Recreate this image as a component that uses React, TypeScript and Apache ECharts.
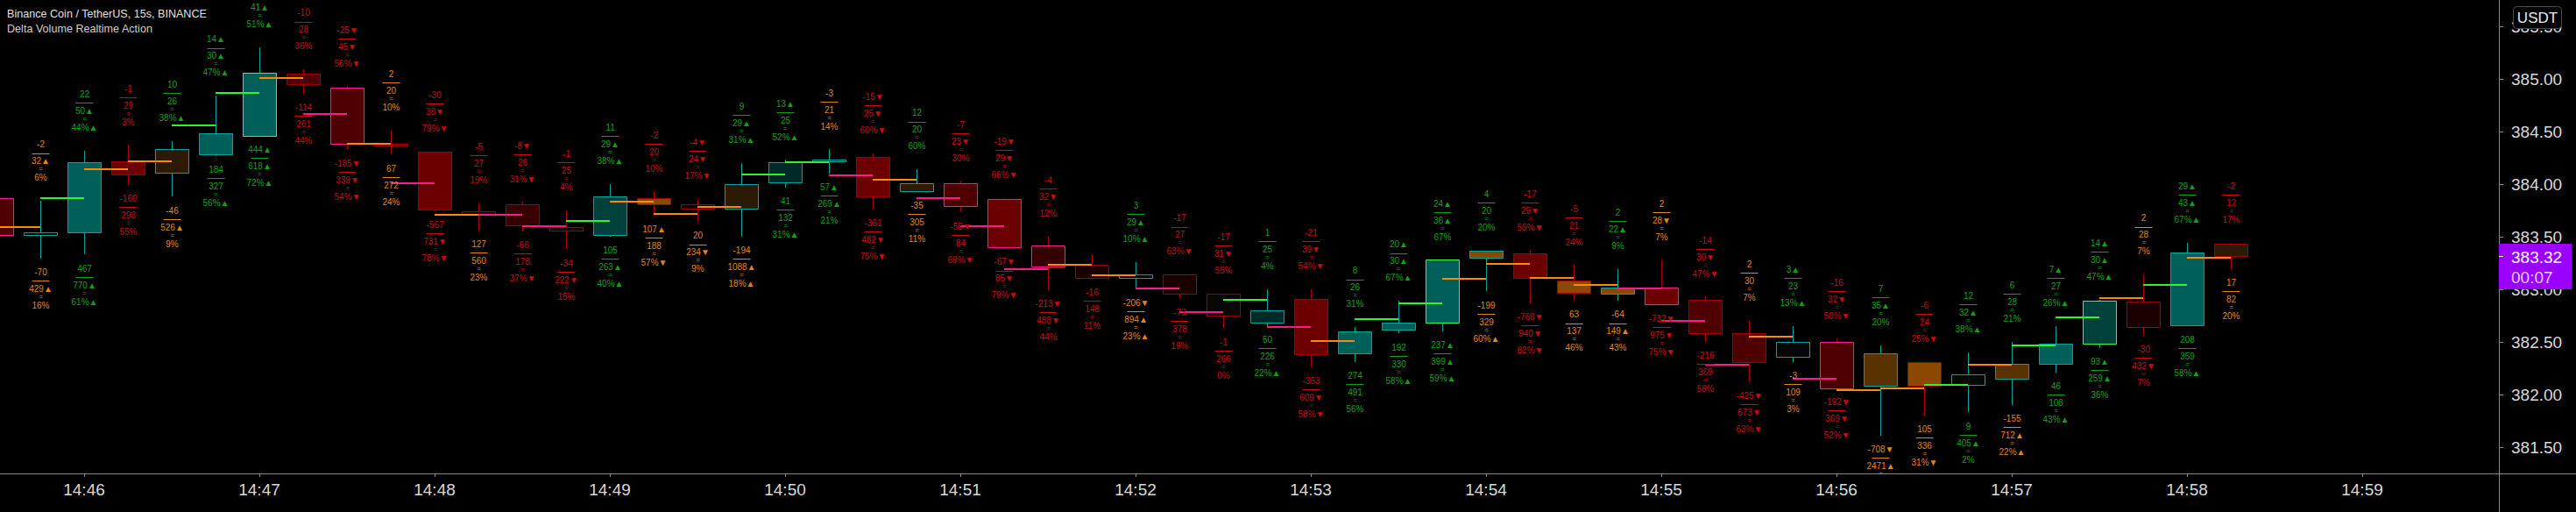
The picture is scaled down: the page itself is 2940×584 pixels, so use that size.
import React, { useEffect, useRef } from 'react';
import * as echarts from 'echarts';

// ---------------- data ----------------
const TITLE = 'Binance Coin / TetherUS, 15s, BINANCE';
const SUBTITLE = 'Delta Volume Realtime Action';
const CURRENCY = 'USDT';
const BAR_SECONDS = 15;
const LAST_PRICE = 383.32;
const COUNTDOWN = '00:07';

const TIMES = [
  '14:45:30','14:45:45','14:46:00','14:46:15','14:46:30','14:46:45','14:47:00','14:47:15','14:47:30','14:47:45',
  '14:48:00','14:48:15','14:48:30','14:48:45','14:49:00','14:49:15','14:49:30','14:49:45','14:50:00','14:50:15',
  '14:50:30','14:50:45','14:51:00','14:51:15','14:51:30','14:51:45','14:52:00','14:52:15','14:52:30','14:52:45',
  '14:53:00','14:53:15','14:53:30','14:53:45','14:54:00','14:54:15','14:54:30','14:54:45','14:55:00','14:55:15',
  '14:55:30','14:55:45','14:56:00','14:56:15','14:56:30','14:56:45','14:57:00','14:57:15','14:57:30','14:57:45',
  '14:58:00','14:58:15',
];

const OPEN = [
  383.87,383.52,383.54,384.22,384.11,384.28,384.46,385.05,384.92,384.38,
  384.31,383.74,383.81,383.59,383.52,383.87,383.81,383.77,384.02,384.22,
  384.26,383.93,384.01,383.86,383.42,383.23,383.11,383.14,382.96,382.68,
  382.91,382.39,382.62,382.68,383.30,383.34,383.08,382.96,383.02,382.90,
  382.58,382.36,382.50,382.08,382.31,382.09,382.15,382.29,382.48,382.88,
  382.66,383.43,
];
const HIGH = [
  383.90,383.84,384.32,384.37,384.41,384.84,385.30,385.09,384.93,384.51,
  384.31,383.82,383.83,383.75,384.00,383.93,383.86,384.20,384.23,384.33,
  384.29,384.14,384.03,383.87,383.50,383.33,383.26,383.14,382.96,383.00,
  383.00,382.64,382.89,383.28,383.37,383.37,383.23,383.19,383.28,382.93,
  382.70,382.65,382.53,382.47,382.31,382.40,382.50,382.65,382.90,383.14,
  383.44,383.44,
];
const LOW = [
  383.45,383.29,383.33,383.99,383.88,384.27,384.46,384.86,384.33,384.28,
  383.74,383.56,383.55,383.38,383.50,383.70,383.64,383.50,383.97,384.10,
  383.76,383.93,383.73,383.39,382.99,383.10,383.00,382.91,382.63,382.65,
  382.26,382.31,382.58,382.60,382.98,382.87,382.89,382.89,382.85,382.50,
  382.12,382.31,382.06,381.61,381.80,381.83,381.90,382.21,382.44,382.56,
  382.65,383.19,
];
const CLOSE = [
  383.52,383.54,384.21,384.09,384.33,384.48,385.06,384.95,384.38,384.37,
  383.76,383.71,383.61,383.56,383.88,383.81,383.77,384.00,384.21,384.23,
  383.88,384.01,383.79,383.40,383.22,383.11,383.14,382.96,382.75,382.80,
  382.38,382.60,382.68,383.28,383.37,383.11,382.97,383.02,382.86,382.58,
  382.31,382.50,382.06,382.39,382.08,382.19,382.29,382.48,382.89,382.64,
  383.35,383.32,
];
// body tone / edge tone per bar (state codes)
const BODY_TONE = [
  'r2','k','t1','r1','b3','t1','t1','r2','r2','k',
  'r1','r4','r3','r4','t2','b1','r4','b3','t3','k',
  'r1','b3','r2','r1','r3','r4','k','r4','k','t3',
  'r1','t1','t1','t1','b1','r1','b1','b1','r1','r2',
  'r2','k','r2','b2','b1','k','b2','t1','t2','r4',
  't1','b3',
];
const EDGE_TONE = [
  'p','t','t','r','t','t','l','r','p','r',
  'r','r','r','r','t','r','r','t','t','t',
  'r','t','p','p','p','r','t','r','r','t',
  'r','t','t','l','t','r','r','t','p','r',
  'r','t','p','t','r','t','t','t','l','r',
  't','r',
];
// level line per bar (drawn from previous bar to this bar)
const MID_LINE = [
  null,383.59,383.87,384.14,384.22,384.56,384.87,385.01,384.67,384.38,
  384.01,383.71,383.71,383.60,383.65,383.83,383.72,383.78,384.09,384.21,
  384.08,384.04,383.87,383.60,383.19,383.23,383.13,383.01,382.78,382.90,
  382.64,382.51,382.72,382.87,383.10,383.24,383.11,383.04,383.01,382.70,
  382.28,382.55,382.15,382.04,382.06,382.09,382.28,382.47,382.73,382.92,
  383.04,383.30,
];
const MID_TONE = [
  'p','o','g','o','o','g','g','o','p','o',
  'p','o','p','p','g','o','o','o','g','g',
  'p','o','p','p','p','o','o','p','p','g',
  'p','o','g','g','o','o','o','o','p','p',
  'p','o','p','o','o','g','o','g','g','o',
  'g','o',
];

const TOP_DELTA = ['','-2','22','-1','10','14▲','21','-10','-25▼','2','-30','-5','-8▼','-1','11','-2','-4▼','9','13▲','-3','-15▼','12','-7','-19▼','-4','','3','-17','-17','1','-21','8','20▲','24▲','4','-17','-5','2','2','-14','2','3▲','-16','7','-6','12','6','7▲','14▲','2','29▲','-2'];
const TOP_VOL = ['','32▲','50▲','29','26','30▲','41▲','28','45▼','20','38▼','27','26','25','29▲','20','24▼','29▲','25','21','25▼','20','23▼','29▼','32▼','','29▲','27','31▼','25','39▼','26','30▲','36▲','20','29▼','21','22▲','28▼','30▼','30','23','32▼','35▲','24','32▲','28','27','30▲','28','43▲','12'];
const TOP_PCT = ['','6%','44%▲','3%','38%▲','47%▲','51%▲','36%','56%▼','10%','79%▼','19%','31%▼','4%','38%▲','10%','17%▼','31%▲','52%▲','14%','60%▼','60%','30%','66%▼','12%','','10%▲','63%▼','55%','4%','54%▼','31%','67%▲','67%','20%','59%▼','24%','9%','7%','47%▼','7%','13%▲','50%▼','20%','25%▼','38%▲','21%','26%▲','47%▲','7%','67%▲','17%'];
const TOP_TONE = ['','o','g','r','g','g','g','r','r','o','r','r','r','r','g','r','r','g','g','o','r','g','r','r','r','','g','r','r','g','r','g','g','g','g','r','r','g','o','r','o','g','r','g','r','g','g','g','g','o','g','r'];

const BOT_DELTA = ['','-70','467','-160','-46','184','444▲','-114','-185▼','67','-567','127','-66','-34','105','107▲','20','-194','41','57▲','-361','-35','-58▼','-67▼','-213▼','-16','-206▼','-73','-1','50','-353','274','192','237▲','-199','-766▼','63','-64','-732▼','-216','-425▼','-3','-192▼','-708▼','105','9','-155','46','93▲','-30','208','17'];
const BOT_VOL = ['','429▲','770▲','293','526▲','327','618▲','261','339▼','272','731▼','560','178','222▼','263▲','188','234▼','1088▲','132','269▲','482▼','305','84','85▼','488▼','148','894▲','378','266','226','609▼','491','330','399▲','329','940▼','137','149▲','975▼','369','673▼','109','369▼','2471▲','336','405▲','712▲','108','259▲','432▼','359','82'];
const BOT_PCT = ['','16%','61%▲','55%','9%','56%▲','72%▲','44%','54%▼','24%','78%▼','23%','37%▼','15%','40%▲','57%▼','9%','18%▲','31%▲','21%','75%▼','11%','69%▼','79%▼','44%','11%','23%▲','19%','0%','22%▲','58%▼','56%','58%▲','59%▲','60%▲','82%▼','46%','43%','75%▼','58%','63%▼','3%','52%▼','29%','31%▼','2%','22%▲','43%▲','36%','7%','58%▲','20%'];
const BOT_TONE = ['','o','g','r','o','g','g','r','r','o','r','o','r','r','g','o','o','o','g','g','r','o','r','r','r','r','o','r','r','g','r','g','g','g','o','r','o','o','r','r','r','o','r','o','o','g','o','g','g','r','g','o'];

const X_TICK_LABELS = ['14:46','14:47','14:48','14:49','14:50','14:51','14:52','14:53','14:54','14:55','14:56','14:57','14:58','14:59'];
const Y_TICKS = [381.5, 382, 382.5, 383, 383.5, 384, 384.5, 385, 385.5];

// ---------------- styles ----------------
const FONT = '"Liberation Sans", Arial, sans-serif';
const BODY_COLORS: Record<string, string> = {
  t1: '#005f58', t2: '#00413c', t3: '#002a28',
  r1: '#6c0000', r2: '#4e0000', r3: '#360000', r4: '#1a0000',
  b1: '#8a4800', b2: '#5a3100', b3: '#2c1a06', k: '#070707',
};
const EDGE_COLORS: Record<string, string> = { t: '#00a59c', r: '#a00000', p: '#ff1a8c', l: '#3cff3c' };
const WICK_COLORS: Record<string, string> = { t: '#00a59c', l: '#00a59c', r: '#a80000', p: '#a80000' };
const LINE_COLORS: Record<string, string> = { g: '#2cf52c', o: '#ff8a00', p: '#ff1a8c' };
const TEXT_COLORS: Record<string, string> = { g: '#12a012', r: '#c80c0c', o: '#e0861c' };
const AXIS_LINE = '#8a8a8a';
const AXIS_TEXT = '#d8d8d8';

const toSec = (t: string) => {
  const p = t.split(':').map(Number);
  return p[0] * 3600 + p[1] * 60 + (p[2] || 0);
};
const BASE_SEC = toSec(X_TICK_LABELS[0]);
const xOf = (t: string) => (toSec(t) - BASE_SEC) / BAR_SECONDS;
const X_TICK_VALUES = X_TICK_LABELS.map(xOf);

const txt = (x: number, y: number, text: string, fill: string, size: number) => ({
  type: 'text',
  x, y,
  style: {
    text, fill, font: `${size}px ${FONT}`,
    align: 'center', verticalAlign: 'middle',
    textAlign: 'center', textVerticalAlign: 'middle',
  },
});

const pushBlock = (children: any[], cx: number, y0: number, d: string, v: string, p: string, tone: string) => {
  if (!tone) return;
  const c = TEXT_COLORS[tone];
  children.push(txt(cx, y0, d, c, 10));
  const ry = Math.round(y0 + 9.6) + 0.5;
  children.push({ type: 'line', shape: { x1: cx - 10, y1: ry, x2: cx + 10, y2: ry }, style: { stroke: c, lineWidth: 1 } });
  children.push(txt(cx, y0 + 19, v, c, 10));
  children.push(txt(cx, y0 + 28, '=', c, 8));
  children.push(txt(cx, y0 + 38, p, c, 10));
};

export default function App() {
  const ref = useRef<HTMLDivElement>(null);

  useEffect(() => {
    document.body.style.margin = '0';
    document.body.style.background = '#000';
    if (!ref.current) return;
    const chart = echarts.init(ref.current, null, { renderer: 'svg' });

    const candleData = TIMES.map((t, i) => [xOf(t), OPEN[i], HIGH[i], LOW[i], CLOSE[i]]);
    const lineData = TIMES.map((t, i) => (MID_LINE[i] == null ? null : [xOf(t), MID_LINE[i], i])).filter(Boolean);
    const labelData = TIMES.map((t, i) => [xOf(t), HIGH[i], LOW[i]]);

    const candleRender = (params: any, api: any) => {
      const i = params.dataIndex;
      const v = api.value(0);
      const pO = api.coord([v, api.value(1)]);
      const yH = api.coord([v, api.value(2)])[1];
      const yL = api.coord([v, api.value(3)])[1];
      const yC = api.coord([v, api.value(4)])[1];
      const w = Math.round(api.size([1, 0])[0] * 0.76);
      const cx = Math.round(pO[0]) + 0.5;
      const top = Math.round(Math.min(pO[1], yC));
      const bot = Math.round(Math.max(pO[1], yC));
      const edge = EDGE_TONE[i];
      return {
        type: 'group',
        children: [
          { type: 'line', shape: { x1: cx, y1: Math.round(yH), x2: cx, y2: Math.round(yL) }, style: { stroke: WICK_COLORS[edge], lineWidth: 1 } },
          {
            type: 'rect',
            shape: { x: Math.round(pO[0] - w / 2) + 0.5, y: top + 0.5, width: w, height: Math.max(1, bot - top) },
            style: { fill: BODY_COLORS[BODY_TONE[i]], stroke: EDGE_COLORS[edge], lineWidth: 1 },
          },
        ],
      };
    };

    const lineRender = (params: any, api: any) => {
      const v = api.value(0);
      const val = api.value(1);
      const i = api.value(2);
      const p1 = api.coord([v - 1, val]);
      const p2 = api.coord([v, val]);
      const y = Math.round(p1[1]);
      return { type: 'line', shape: { x1: p1[0], y1: y, x2: p2[0], y2: y }, style: { stroke: LINE_COLORS[MID_TONE[i]], lineWidth: 2 } };
    };

    const labelRender = (params: any, api: any) => {
      const i = params.dataIndex;
      const v = api.value(0);
      const pH = api.coord([v, api.value(1)]);
      const yL = api.coord([v, api.value(2)])[1];
      const cx = Math.round(pH[0]) + 0.5;
      const children: any[] = [];
      pushBlock(children, cx, pH[1] - 64.3, TOP_DELTA[i], TOP_VOL[i], TOP_PCT[i], TOP_TONE[i]);
      pushBlock(children, cx, yL + 15.7, BOT_DELTA[i], BOT_VOL[i], BOT_PCT[i], BOT_TONE[i]);
      return { type: 'group', children };
    };

    const priceRender = (params: any, api: any) => {
      const cs = params.coordSys;
      const px = cs.x + cs.width;
      const py = Math.round(api.coord([api.value(0), api.value(1)])[1]);
      return {
        type: 'group',
        children: [
          { type: 'rect', shape: { x: px, y: py - 14, width: 83, height: 52 }, style: { fill: '#9b00ff' } },
          { type: 'line', shape: { x1: px, y1: py + 0.5, x2: px + 5, y2: py + 0.5 }, style: { stroke: '#ffffff', lineWidth: 1 } },
          { type: 'text', x: px + 14, y: py + 1, style: { text: api.value(1).toFixed(2), fill: '#ffffff', font: `19px ${FONT}`, align: 'left', verticalAlign: 'middle', textAlign: 'left', textVerticalAlign: 'middle' } },
          { type: 'text', x: px + 14, y: py + 24, style: { text: COUNTDOWN, fill: '#e2cdfb', font: `19px ${FONT}`, align: 'left', verticalAlign: 'middle', textAlign: 'left', textVerticalAlign: 'middle' } },
        ],
      };
    };

    const option: any = {
      animation: false,
      backgroundColor: '#000000',
      grid: { left: 0, right: 88, top: 0, bottom: 44, containLabel: false, outerBoundsMode: 'none' },
      xAxis: {
        type: 'value',
        min: -1.92,
        max: 55.12,
        splitLine: { show: false },
        axisLine: { show: false, onZero: false },
        axisTick: { show: true, length: 4, customValues: X_TICK_VALUES, lineStyle: { color: AXIS_LINE } },
        axisLabel: {
          customValues: X_TICK_VALUES,
          formatter: (val: number) => {
            const k = X_TICK_VALUES.indexOf(val);
            return k >= 0 ? X_TICK_LABELS[k] : '';
          },
          color: AXIS_TEXT, fontSize: 19, fontFamily: FONT, margin: 9,
        },
      },
      yAxis: {
        type: 'value',
        position: 'right',
        min: 381.25,
        max: 385.75,
        splitLine: { show: false },
        axisLine: { show: false, onZero: false },
        axisTick: { show: true, length: 5, customValues: Y_TICKS, lineStyle: { color: AXIS_LINE } },
        axisLabel: {
          customValues: Y_TICKS,
          formatter: (val: number) => val.toFixed(2),
          color: AXIS_TEXT, fontSize: 19, fontFamily: FONT, margin: 14,
        },
      },
      graphic: [
        { type: 'line', z: 1, shape: { x1: 0, y1: 540.5, x2: 2940, y2: 540.5 }, style: { stroke: AXIS_LINE, lineWidth: 1 } },
        { type: 'line', z: 1, shape: { x1: 2852.5, y1: 0, x2: 2852.5, y2: 584 }, style: { stroke: AXIS_LINE, lineWidth: 1 } },
        { type: 'text', z: 30, x: 8, y: 16, style: { text: TITLE, fill: '#e0e0e0', font: `12.6px ${FONT}`, align: 'left', verticalAlign: 'middle', textAlign: 'left', textVerticalAlign: 'middle' } },
        { type: 'text', z: 30, x: 8, y: 33, style: { text: SUBTITLE, fill: '#cfcfcf', font: `12.6px ${FONT}`, align: 'left', verticalAlign: 'middle', textAlign: 'left', textVerticalAlign: 'middle' } },
        { type: 'rect', z: 30, shape: { x: 2868.5, y: 7.5, width: 55, height: 25, r: 4 }, style: { fill: '#000000', stroke: '#4a4c52', lineWidth: 1 } },
        { type: 'text', z: 31, x: 2896, y: 20, style: { text: CURRENCY, fill: '#ececec', font: `17px ${FONT}`, align: 'center', verticalAlign: 'middle', textAlign: 'center', textVerticalAlign: 'middle' } },
      ],
      series: [
        { type: 'custom', name: 'candles', renderItem: candleRender, data: candleData, encode: { x: 0, y: [1, 2, 3, 4] }, clip: true, z: 2, silent: true },
        { type: 'custom', name: 'levels', renderItem: lineRender, data: lineData, encode: { x: 0, y: 1 }, clip: true, z: 3, silent: true },
        { type: 'custom', name: 'delta', renderItem: labelRender, data: labelData, encode: { x: 0, y: [1, 2] }, clip: true, z: 4, silent: true },
        { type: 'custom', name: 'price', renderItem: priceRender, data: [[xOf(TIMES[TIMES.length - 1]), LAST_PRICE]], encode: { x: 0, y: 1 }, clip: false, z: 10, silent: true },
      ],
    };

    chart.setOption(option);
    return () => chart.dispose();
  }, []);

  return <div ref={ref} style={{ width: 2940, height: 584, background: '#000' }} />;
}
